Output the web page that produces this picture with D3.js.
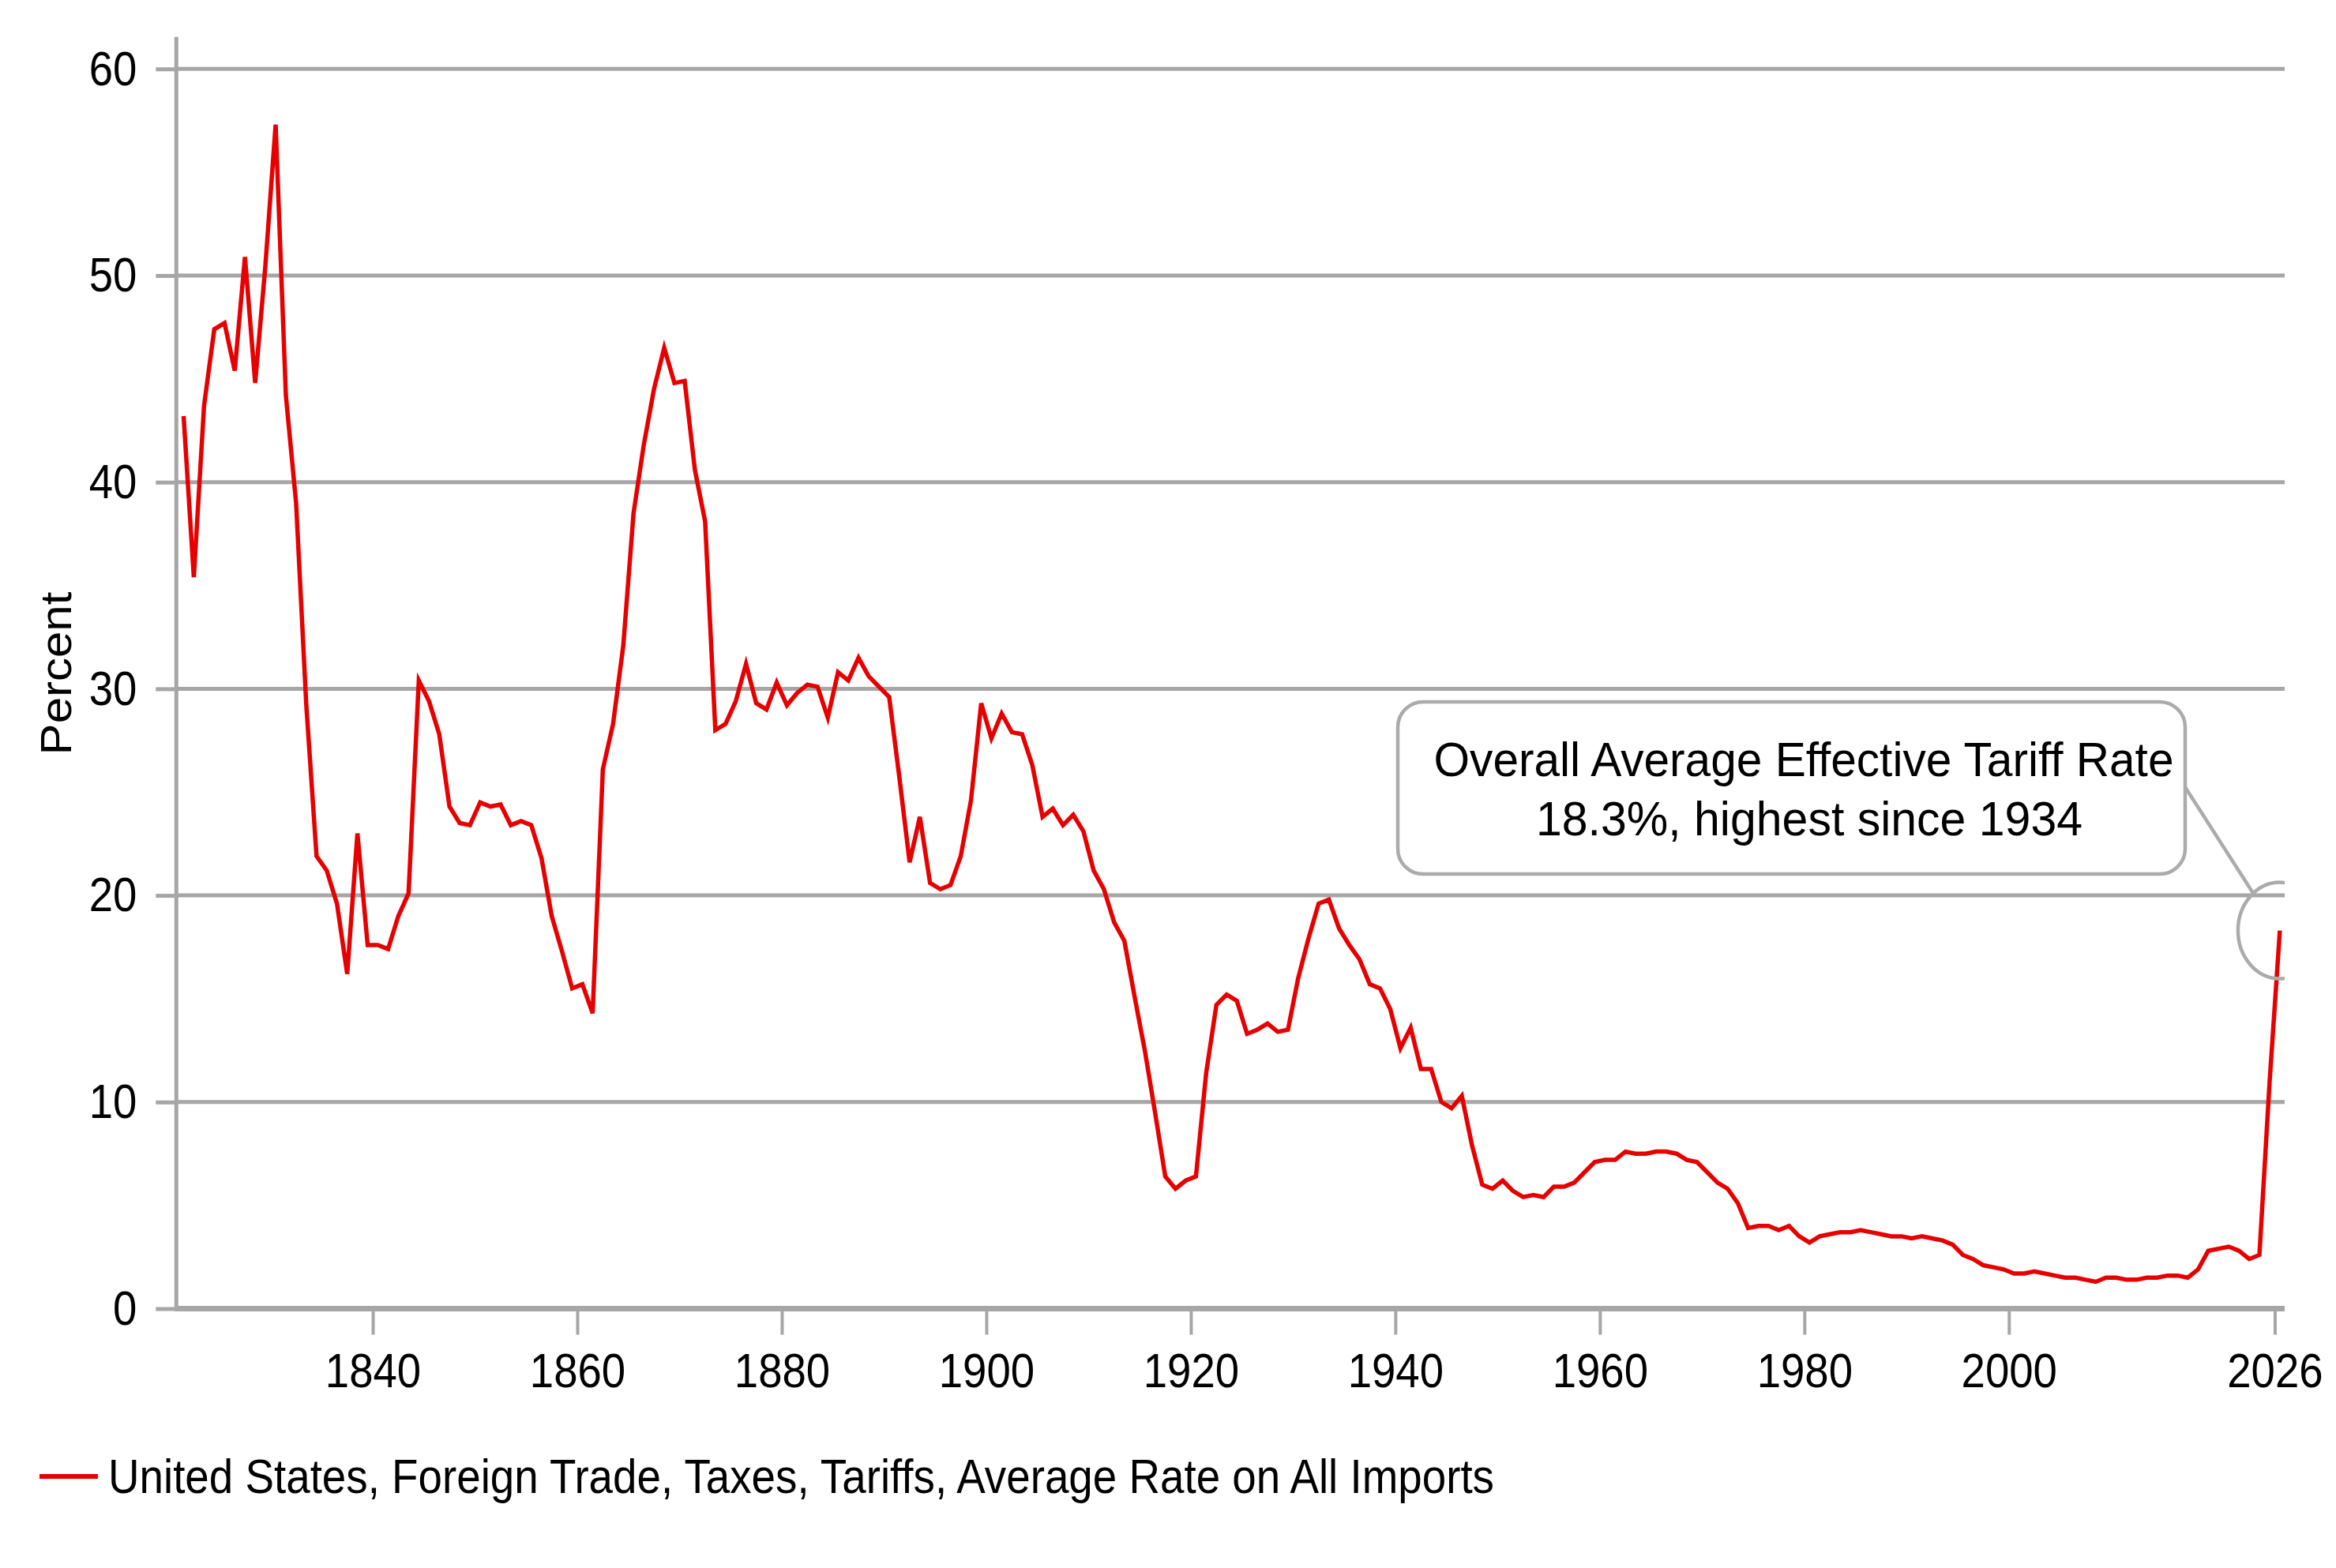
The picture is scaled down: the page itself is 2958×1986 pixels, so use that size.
<!DOCTYPE html>
<html>
<head>
<meta charset="utf-8">
<script src="https://cdn.jsdelivr.net/npm/d3@7"></script>
<style>
  html, body { margin: 0; padding: 0; background: #fff; }
  svg { display: block; }
  text { font-family: "Liberation Sans", Arial, Helvetica, sans-serif; fill: #000; }
</style>
</head>
<body>
<svg id="chart" width="2958" height="1986"></svg>
<script>
// ---------------- data ----------------
const startYear = 1821;
const tariffRate = [
  43.2, 35.4, 43.7, 47.4, 47.7, 45.4, 50.9, 44.8, 50.5, 57.3, // 1821-1830
  44.2, 39.0, 29.2, 21.9, 21.2, 19.6, 16.2, 23.0, 17.6, 17.6, // 1831-1840
  17.4, 19.0, 20.1, 30.4, 29.4, 27.8, 24.3, 23.5, 23.4, 24.5, // 1841-1850
  24.3, 24.4, 23.4, 23.6, 23.4, 21.8, 19.0, 17.3, 15.5, 15.7, // 1851-1860
  14.3, 26.1, 28.3, 32.1, 38.5, 41.8, 44.5, 46.5, 44.8, 44.9, // 1861-1870
  40.6, 38.1, 28.0, 28.3, 29.4, 31.2, 29.3, 29.0, 30.3, 29.2, // 1871-1880
  29.8, 30.2, 30.1, 28.6, 30.8, 30.4, 31.5, 30.6, 30.1, 29.6, // 1881-1890
  25.7, 21.6, 23.8, 20.6, 20.3, 20.5, 21.9, 24.6, 29.3, 27.6, // 1891-1900
  28.8, 27.9, 27.8, 26.3, 23.8, 24.2, 23.4, 23.9, 23.1, 21.2, // 1901-1910
  20.3, 18.7, 17.8, 15.1, 12.5, 9.5, 6.4, 5.8, 6.2, 6.4,      // 1911-1920
  11.4, 14.7, 15.2, 14.9, 13.3, 13.5, 13.8, 13.4, 13.5, 16.0, // 1921-1930
  17.9, 19.6, 19.8, 18.4, 17.6, 16.9, 15.7, 15.5, 14.5, 12.6, // 1931-1940
  13.6, 11.6, 11.6, 10.0, 9.7, 10.3, 7.9, 6.0, 5.8, 6.2,      // 1941-1950
  5.7, 5.4, 5.5, 5.4, 5.9, 5.9, 6.1, 6.6, 7.1, 7.2,           // 1951-1960
  7.2, 7.6, 7.5, 7.5, 7.6, 7.6, 7.5, 7.2, 7.1, 6.6,           // 1961-1970
  6.1, 5.8, 5.1, 3.9, 4.0, 4.0, 3.8, 4.0, 3.5, 3.2,           // 1971-1980
  3.5, 3.6, 3.7, 3.7, 3.8, 3.7, 3.6, 3.5, 3.5, 3.4,           // 1981-1990
  3.5, 3.4, 3.3, 3.1, 2.6, 2.4, 2.1, 2.0, 1.9, 1.7,           // 1991-2000
  1.7, 1.8, 1.7, 1.6, 1.5, 1.5, 1.4, 1.3, 1.5, 1.5,           // 2001-2010
  1.4, 1.4, 1.5, 1.5, 1.6, 1.6, 1.5, 1.9, 2.8, 2.9,           // 2011-2020
  3.0, 2.8, 2.4, 2.6, 11.0, 18.3                               // 2021-2026
];
const years = tariffRate.map((_, i) => startYear + i);
const yTickValues = [0, 10, 20, 30, 40, 50, 60];
const xTickValues = [1840, 1860, 1880, 1900, 1920, 1940, 1960, 1980, 2000, 2026];
const xTickLabels = ["1840", "1860", "1880", "1900", "1920", "1940", "1960", "1980", "2000", "2026"];
const yTitle = "Percent";
const seriesName = "United States, Foreign Trade, Taxes, Tariffs, Average Rate on All Imports";
const noteLines = ["Overall Average Effective Tariff Rate", "18.3%, highest since 1934"];
const noteYear = 2026, noteValue = 18.3;

const series = years.map((yr, i) => ({ year: yr, value: tariffRate[i] }));

// ---------------- layout ----------------
const svg = d3.select("#chart");
const L = 223.3, R = 2893, T = 87.3, B = 1657.5;
const x = d3.scaleLinear().domain([1820.79, 2026.97]).range([L, R]);
const y = d3.scaleLinear().domain([0, 60]).range([B, T]);
const GRID = "#a6a6a6";
const RED = "#e60000";
const FS = 62;

function squeeze(sel, k) {
  sel.each(function () {
    const t = d3.select(this);
    const xv = +t.attr("x") || 0;
    t.attr("x", xv / k).attr("transform", `scale(${k},1)`);
  });
}

svg.append("rect").attr("width", 2958).attr("height", 1986).attr("fill", "#fff");

// gridlines
svg.append("g").selectAll("line")
  .data(yTickValues.filter(v => v > 0))
  .join("line")
  .attr("x1", L).attr("x2", R)
  .attr("y1", d => y(d)).attr("y2", d => y(d))
  .attr("stroke", GRID).attr("stroke-width", 5);

// y axis
const gy = svg.append("g").attr("transform", `translate(${L},0)`)
  .call(d3.axisLeft(y).tickValues(yTickValues).tickFormat(d3.format("d")).tickSize(26).tickPadding(24));
gy.select(".domain").remove();
gy.selectAll(".tick line").attr("stroke", GRID).attr("stroke-width", 5);
gy.selectAll(".tick text").attr("font-size", FS).attr("font-family", null);
squeeze(gy.selectAll(".tick text"), 0.88);
svg.append("line").attr("x1", L).attr("x2", L).attr("y1", 46.7).attr("y2", B + 3)
  .attr("stroke", GRID).attr("stroke-width", 5);

// x axis
const gx = svg.append("g").attr("transform", `translate(0,${B})`)
  .call(d3.axisBottom(x).tickValues(xTickValues).tickFormat((d, i) => xTickLabels[i]).tickSize(33).tickPadding(22));
gx.select(".domain").remove();
gx.selectAll(".tick line").attr("stroke", GRID).attr("stroke-width", 4);
gx.selectAll(".tick text").attr("font-size", FS).attr("font-family", null);
squeeze(gx.selectAll(".tick text"), 0.88);
svg.append("line").attr("x1", L - 2).attr("x2", R).attr("y1", B).attr("y2", B)
  .attr("stroke", GRID).attr("stroke-width", 7);

// y title
svg.append("text")
  .attr("transform", "translate(90,853) scale(0.91,1) rotate(-90)")
  .attr("text-anchor", "middle")
  .attr("font-size", 60)
  .text(yTitle);

// series line
svg.append("path")
  .datum(series)
  .attr("fill", "none")
  .attr("stroke", RED)
  .attr("stroke-width", 5.5)
  .attr("stroke-linejoin", "miter")
  .attr("d", d3.line().x(d => x(d.year + 0.5)).y(d => y(d.value)));

// annotation
svg.append("clipPath").attr("id", "plotclip")
  .append("rect").attr("x", 0).attr("y", 0).attr("width", R).attr("height", 1986);
const cx = x(noteYear + 0.5), cy = y(noteValue);
const erx = 53, ery = 61;
svg.append("ellipse")
  .attr("clip-path", "url(#plotclip)")
  .attr("cx", cx).attr("cy", cy).attr("rx", erx).attr("ry", ery)
  .attr("fill", "none").attr("stroke", "#ababab").attr("stroke-width", 4.5);
svg.append("line")
  .attr("x1", 2767).attr("y1", 997)
  .attr("x2", cx - 0.636 * erx).attr("y2", cy - 0.772 * ery)
  .attr("stroke", "#ababab").attr("stroke-width", 4.5);
svg.append("rect")
  .attr("x", 1770).attr("y", 889).attr("width", 997).attr("height", 218)
  .attr("rx", 32).attr("ry", 32)
  .attr("fill", "#fff").attr("stroke", "#ababab").attr("stroke-width", 4.5);
svg.append("text").attr("x", 1815.5).attr("y", 982.7).attr("font-size", FS)
  .attr("textLength", 937).attr("lengthAdjust", "spacingAndGlyphs")
  .text(noteLines[0]);
svg.append("text").attr("x", 1945).attr("y", 1058.3).attr("font-size", FS)
  .attr("textLength", 692).attr("lengthAdjust", "spacingAndGlyphs")
  .text(noteLines[1]);

// legend
svg.append("line").attr("x1", 50).attr("x2", 124).attr("y1", 1870).attr("y2", 1870)
  .attr("stroke", RED).attr("stroke-width", 6);
svg.append("text").attr("x", 137).attr("y", 1891).attr("font-size", FS)
  .attr("textLength", 1755).attr("lengthAdjust", "spacingAndGlyphs")
  .text(seriesName);
</script>
</body>
</html>
